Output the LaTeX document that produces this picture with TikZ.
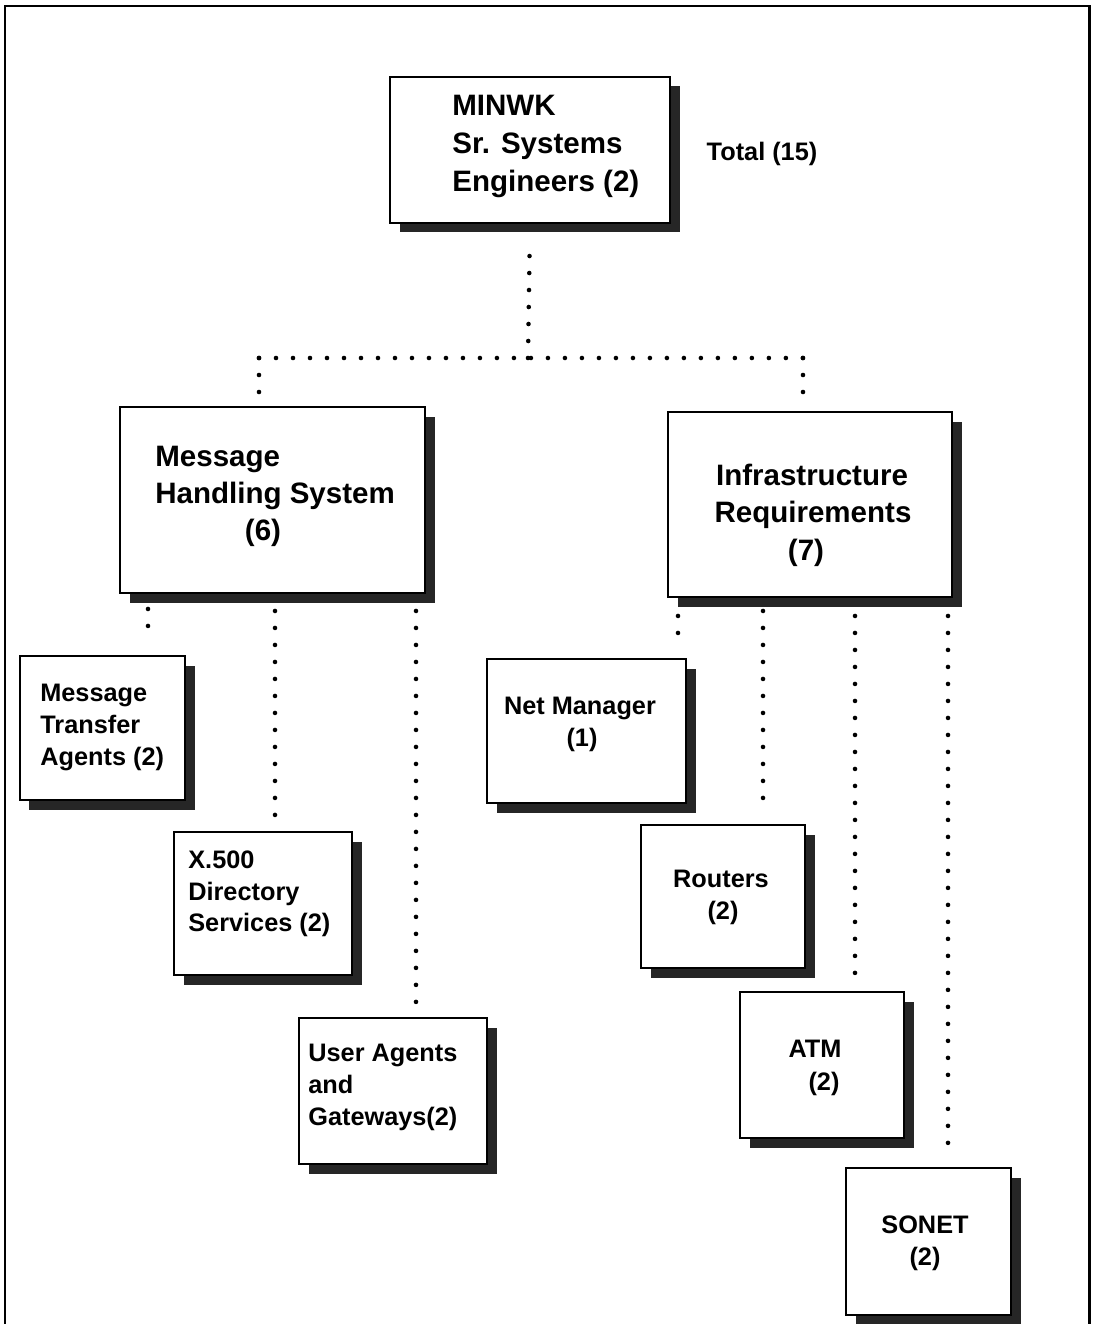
\documentclass[tikz,border=0pt]{standalone}
\usepackage{fontspec}
\setmainfont{Liberation Sans}
\usetikzlibrary{fit,shadows}
\begin{document}
\begin{tikzpicture}[x=0.02cm,y=-0.02cm,
  box/.style={draw=black, line width=1.1pt, fill=white, inner sep=0pt,
    general shadow={shadow xshift=0.19cm, shadow yshift=-0.19cm, fill=black!85}},
  big/.style={font=\fontsize{16.8}{20}\selectfont\bfseries, inner sep=0pt},
  small/.style={font=\fontsize{14.4}{18}\selectfont\bfseries, inner sep=0pt},
  dots/.style={line width=2.6pt, line cap=round, dash pattern=on 0pt off 0.34cm}]
\useasboundingbox (0,0) rectangle (1092,1324);

% page frame (open at the bottom)
\draw[line width=1.7pt] (5,1330) -- (5,6) -- (1089,6) -- (1089,1330);

% boxes
\node[box, fit={(390,77) (670,223)}]   (top)   {};
\node[box, fit={(120,407) (425,593)}]  (mhs)   {};
\node[box, fit={(668,412) (952,597)}]  (infra) {};
\node[box, fit={(20,656) (185,800)}]   (mta)   {};
\node[box, fit={(174,832) (352,975)}]  (x500)  {};
\node[box, fit={(299,1018) (487,1164)}] (ua)   {};
\node[box, fit={(487,659) (686,803)}]  (net)   {};
\node[box, fit={(641,825) (805,968)}]  (rout)  {};
\node[box, fit={(740,992) (904,1138)}] (atm)   {};
\node[box, fit={(846,1168) (1011,1315)}] (sonet) {};

% box texts
\node[big, anchor=base west] (top1) at (452,116) {MINWK};
\node[big, anchor=base west] (top2) at (452,154) {Sr. Systems};
\node[big, anchor=base west] (top3) at (452,192) {Engineers (2)};
\node[small, anchor=base] (total) at (762,161) {Total (15)};

\node[big, anchor=base west] (mhs1) at (155,466) {Message};
\node[big, anchor=base west] (mhs2) at (155,503) {Handling System};
\node[big, anchor=base]      (mhs3) at (263,540) {(6)};

\node[big, anchor=base] (inf1) at (812,485) {Infrastructure};
\node[big, anchor=base] (inf2) at (813,522) {Requirements};
\node[big, anchor=base] (inf3) at (806,560) {(7)};

\node[small, anchor=base west] (mta1) at (40,701) {Message};
\node[small, anchor=base west] (mta2) at (40,733) {Transfer};
\node[small, anchor=base west] (mta3) at (40,765) {Agents (2)};

\node[small, anchor=base west] (x5001) at (188,868) {X.500};
\node[small, anchor=base west] (x5002) at (188,900) {Directory};
\node[small, anchor=base west] (x5003) at (188,931) {Services (2)};

\node[small, anchor=base west] (ua1) at (308,1061) {User Agents};
\node[small, anchor=base west] (ua2) at (308,1093) {and};
\node[small, anchor=base west] (ua3) at (308,1125) {Gateways(2)};

\node[small, anchor=base] (net1) at (580,714) {Net Manager};
\node[small, anchor=base] (net2) at (582,746) {(1)};

\node[small, anchor=base] (rout1) at (721,887) {Routers};
\node[small, anchor=base] (rout2) at (723,919) {(2)};

\node[small, anchor=base] (atm1) at (815,1057) {ATM};
\node[small, anchor=base] (atm2) at (824,1090) {(2)};

\node[small, anchor=base] (sonet1) at (925,1233) {SONET};
\node[small, anchor=base] (sonet2) at (925,1265) {(2)};

% dotted reporting lines
\coordinate (jc) at (528,358);
\coordinate (jl) at (259,358);
\coordinate (jr) at (803,358);
\coordinate (ca) at (148,0);
\coordinate (cb) at (275,0);
\coordinate (cc) at (416,0);
\coordinate (cd) at (678,0);
\coordinate (ce) at (763,0);
\coordinate (cf) at (855,0);
\coordinate (cg) at (948,0);

\draw[dots, shorten >=0.4cm] (jc) -- (top.south);
\draw[dots] (jl) -- (jr);
\draw[dots, shorten >=0.24cm] (jl) -- (jl |- mhs.north);
\draw[dots, shorten >=0.24cm] (jr) -- (jr |- infra.north);

\draw[dots, shorten <=0.3cm,  shorten >=0.28cm] (ca |- mhs.south) -- (ca |- mta.north);
\draw[dots, shorten <=0.34cm, shorten >=0.04cm] (cb |- mhs.south) -- (cb |- x500.north);
\draw[dots, shorten <=0.34cm, shorten >=0.2cm]  (cc |- mhs.south) -- (cc |- ua.north);

\draw[dots, shorten <=0.36cm, shorten >=0.38cm] (cd |- infra.south) -- (cd |- net.north);
\draw[dots, shorten <=0.26cm, shorten >=0.3cm]  (ce |- infra.south) -- (ce |- rout.north);
\draw[dots, shorten <=0.36cm, shorten >=0.34cm] (cf |- infra.south) -- (cf |- atm.north);
\draw[dots, shorten <=0.36cm, shorten >=0.46cm] (cg |- infra.south) -- (cg |- sonet.north);
\end{tikzpicture}
\end{document}
